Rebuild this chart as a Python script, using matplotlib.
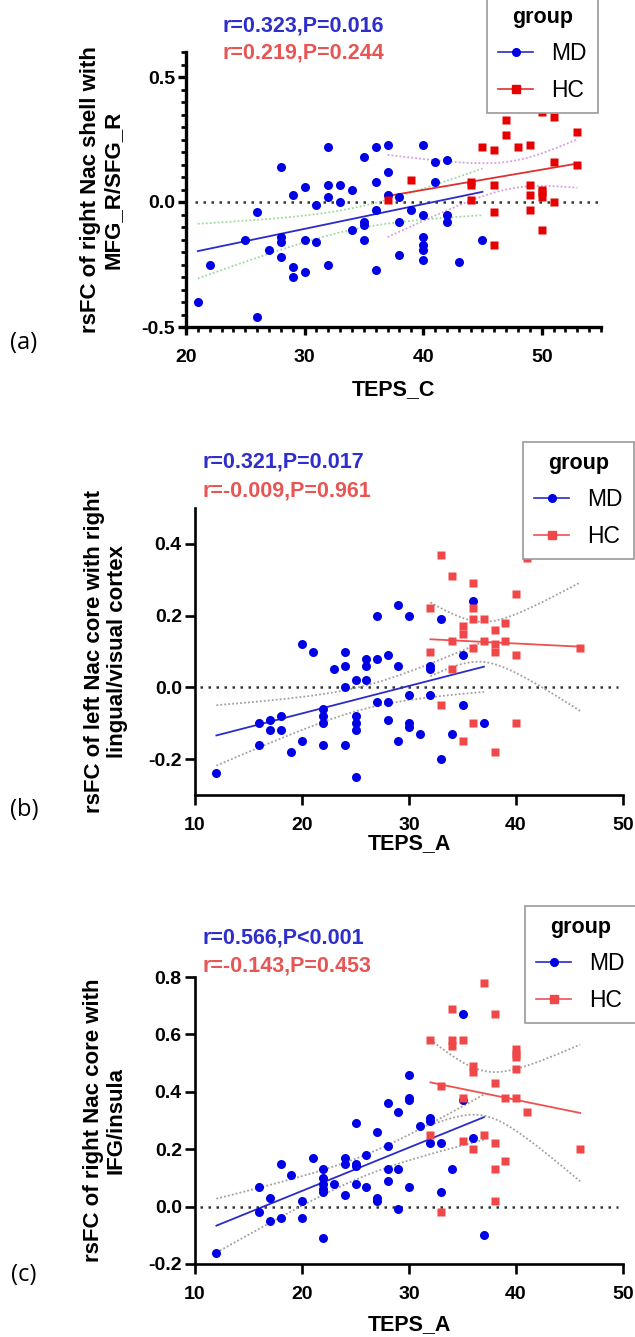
import numpy as np
import matplotlib
matplotlib.use('Agg')
import matplotlib.pyplot as plt
from matplotlib.lines import Line2D
from matplotlib.ticker import MultipleLocator, FixedLocator, FormatStrFormatter

plt.rcParams['font.family'] = ['Liberation Sans', 'DejaVu Sans']
plt.rcParams['axes.unicode_minus'] = False

# ---------------- data ----------------
# Panel (a): TEPS_C vs rsFC right Nac shell - MFG_R/SFG_R
a_md_x = [21, 22, 25, 26, 26, 27, 28, 28, 28, 28, 29, 29, 29, 30, 30, 30, 31, 31,
          32, 32, 32, 32, 33, 33, 34, 34, 35, 35, 35, 35, 36, 36, 36, 36, 37, 37, 37,
          38, 38, 38, 39, 40, 40, 40, 40, 40, 40, 41, 41, 42, 42, 42, 43, 45]
a_md_y = [-0.40, -0.25, -0.15, -0.04, -0.46, -0.19, 0.14, -0.14, -0.16, -0.22, 0.03, -0.26, -0.30,
          0.06, -0.15, -0.28, -0.01, -0.16, 0.22, 0.07, 0.02, -0.25, 0.07, 0.00, 0.05, -0.11,
          0.18, -0.08, -0.09, -0.15, 0.22, 0.08, -0.03, -0.27, 0.23, 0.12, 0.03, 0.02, -0.08,
          -0.21, -0.03, 0.23, -0.05, -0.14, -0.17, -0.19, -0.23, 0.16, 0.08, 0.17, -0.05, -0.08,
          -0.24, -0.15]
a_hc_x = [37, 39, 44, 44, 44, 45, 46, 46, 46, 46, 47, 47, 48, 49, 49, 49, 49, 50, 50, 50,
          50, 50, 51, 51, 51, 53, 53]
a_hc_y = [0.01, 0.09, 0.08, 0.07, 0.01, 0.22, 0.21, 0.07, -0.04, -0.17, 0.33, 0.27, 0.22, 0.23,
          0.07, 0.03, -0.03, 0.36, 0.05, 0.04, 0.02, -0.11, 0.34, 0.16, 0.00, 0.28, 0.15]

# Panel (b): TEPS_A vs rsFC left Nac core - right lingual/visual cortex
b_md_x = [12, 16, 16, 17, 17, 18, 18, 19, 20, 20, 21, 22, 22, 22, 22, 23, 24, 24, 24, 24,
          25, 25, 25, 25, 25, 26, 26, 26, 27, 27, 27, 28, 28, 28, 29, 29, 29, 30, 30, 30, 30,
          31, 32, 32, 32, 33, 33, 34, 35, 35, 36, 37]
b_md_y = [-0.24, -0.10, -0.16, -0.09, -0.12, -0.08, -0.12, -0.18, 0.12, -0.15, 0.10, -0.06,
          -0.08, -0.10, -0.16, 0.05, 0.10, 0.06, 0.00, -0.16, 0.02, -0.08, -0.10, -0.12, -0.25,
          0.08, 0.06, 0.02, 0.20, 0.08, -0.04, 0.09, -0.04, -0.09, 0.23, 0.06, -0.15, 0.20,
          -0.02, -0.10, -0.11, -0.13, 0.06, 0.05, -0.02, 0.19, -0.20, -0.13, 0.09, -0.05, 0.24,
          -0.10]
b_hc_x = [32, 32, 33, 33, 34, 34, 34, 35, 35, 35, 36, 36, 36, 36, 36, 37, 37, 38, 38, 38,
          38, 39, 39, 40, 40, 40, 41, 46]
b_hc_y = [0.22, 0.10, 0.37, -0.05, 0.31, 0.13, 0.05, 0.17, 0.15, -0.15, 0.29, 0.22, 0.19, 0.11,
          -0.10, 0.19, 0.13, 0.16, 0.12, 0.10, -0.18, 0.18, 0.13, 0.26, 0.09, -0.10, 0.36, 0.11]

# Panel (c): TEPS_A vs rsFC right Nac core - IFG/insula
c_md_x = [12, 16, 16, 17, 17, 18, 18, 19, 20, 20, 21, 22, 22, 22, 22, 22, 22, 23, 24, 24,
          24, 25, 25, 25, 25, 26, 26, 27, 27, 27, 28, 28, 28, 28, 29, 29, 29, 30, 30, 30, 30,
          31, 32, 32, 32, 33, 33, 34, 35, 35, 36, 37]
c_md_y = [-0.16, 0.07, -0.02, 0.03, -0.05, 0.15, -0.04, 0.11, 0.02, -0.04, 0.17, 0.13, 0.10,
          0.08, 0.06, 0.05, -0.11, 0.08, 0.17, 0.15, 0.04, 0.29, 0.15, 0.14, 0.08, 0.18, 0.07,
          0.26, 0.03, 0.02, 0.36, 0.21, 0.13, 0.09, 0.33, 0.13, -0.01, 0.46, 0.38, 0.37, 0.07,
          0.28, 0.31, 0.30, 0.22, 0.22, 0.05, 0.13, 0.67, 0.37, 0.24, -0.10]
c_hc_x = [32, 32, 33, 33, 34, 34, 34, 35, 35, 35, 36, 36, 36, 37, 37, 38, 38, 38, 38, 38,
          39, 39, 40, 40, 40, 40, 40, 41, 46]
c_hc_y = [0.58, 0.25, 0.42, -0.02, 0.69, 0.58, 0.56, 0.58, 0.38, 0.23, 0.49, 0.47, 0.20, 0.78,
          0.25, 0.67, 0.43, 0.22, 0.13, 0.02, 0.38, 0.16, 0.55, 0.53, 0.52, 0.48, 0.38, 0.33, 0.20]

stats = [("r=0.323,P=0.016", "r=0.219,P=0.244"),
         ("r=0.321,P=0.017", "r=-0.009,P=0.961"),
         ("r=0.566,P<0.001", "r=-0.143,P=0.453")]
ylabels = ["rsFC of right Nac shell with\nMFG_R/SFG_R",
           "rsFC of left Nac core with right\nlingual/visual cortex",
           "rsFC of right Nac core with\nIFG/insula"]
xlabels = ["TEPS_C", "TEPS_A", "TEPS_A"]
panel_tags = ["(a)", "(b)", "(c)"]
groups = ["MD", "HC"]

T_MD = 2.005   # t(0.975, ~52 df)
T_HC = 2.056   # t(0.975, ~26 df)

# ---------------- styling ----------------
W, H = 635, 1337
fig = plt.figure(figsize=(W / 100, H / 100), dpi=100)

def fx(x):
    return x / W

def fy(y):
    return 1 - y / H

def add_ax(l, t, r, b):
    return fig.add_axes([l / W, 1 - b / H, (r - l) / W, (b - t) / H])

PT_BLUE = '#0000E6'
LINE_BLUE = '#2B2BC8'
TXT_BLUE = '#2E2ECC'
TXT_RED = '#E85555'

def fit_band(ax, x, y, tval, line_color, band_color):
    x = np.asarray(x, float)
    y = np.asarray(y, float)
    n = len(x)
    b, a = np.polyfit(x, y, 1)
    xs = np.linspace(x.min(), x.max(), 120)
    yh = a + b * xs
    resid = y - (a + b * x)
    s = np.sqrt(np.sum(resid ** 2) / (n - 2))
    sxx = np.sum((x - x.mean()) ** 2)
    se = s * np.sqrt(1.0 / n + (xs - x.mean()) ** 2 / sxx)
    ax.plot(xs, yh + tval * se, color=band_color, lw=1.3, ls=(0, (1, 1.2)), zorder=2)
    ax.plot(xs, yh - tval * se, color=band_color, lw=1.3, ls=(0, (1, 1.2)), zorder=2)
    ax.plot(xs, yh, color=line_color, lw=1.3, zorder=3)

def style_ax(ax, lw, tlen, xpad):
    for s in ('top', 'right'):
        ax.spines[s].set_visible(False)
    for s in ('left', 'bottom'):
        ax.spines[s].set_linewidth(lw)
    ax.tick_params(which='major', length=tlen, width=lw, labelsize=14, pad=2)
    ax.tick_params(axis='x', which='major', pad=xpad)
    ax.tick_params(which='minor', length=tlen * 0.6, width=lw * 0.8)
    for lab in ax.get_xticklabels() + ax.get_yticklabels():
        lab.set_fontweight('bold')

panels = [
    dict(box=(186, 52, 601, 327), xlim=(20, 55), ylim=(-0.5, 0.6),
         xt=[20, 30, 40, 50], yt=[-0.5, 0.0, 0.5], xminor=1, yminor=0.05,
         md=(a_md_x, a_md_y), hc=(a_hc_x, a_hc_y), zline=(20.8, 55),
         md_band='#9ED89E', hc_band='#D79BE3', hc_pt='#E60000', hc_line='#E03030',
         lw=2.4, tlen=6, xpad=10, stat_y=(26, 53), stat_x=222, ylab_x=102,
         leg=dict(loc='lower left', anchor=(487, 113)), tag_y=343, xlab_y=390),
    dict(box=(195, 508, 623, 795), xlim=(10, 50), ylim=(-0.3, 0.5),
         xt=[10, 20, 30, 40, 50], yt=[-0.2, 0.0, 0.2, 0.4], xminor=None, yminor=None,
         md=(b_md_x, b_md_y), hc=(b_hc_x, b_hc_y), zline=(10.5, 49.5),
         md_band='#A0A0A0', hc_band='#A0A0A0', hc_pt='#F04848', hc_line='#F05050',
         lw=1.9, tlen=7.5, xpad=8, stat_y=(462, 491), stat_x=203, ylab_x=106,
         leg=dict(loc='upper left', anchor=(523, 442)), tag_y=810, xlab_y=844),
    dict(box=(195, 977, 623, 1264), xlim=(10, 50), ylim=(-0.2, 0.8),
         xt=[10, 20, 30, 40, 50], yt=[-0.2, 0.0, 0.2, 0.4, 0.6, 0.8], xminor=None, yminor=None,
         md=(c_md_x, c_md_y), hc=(c_hc_x, c_hc_y), zline=(10.5, 49.5),
         md_band='#A0A0A0', hc_band='#A0A0A0', hc_pt='#F04848', hc_line='#F05050',
         lw=1.9, tlen=7.5, xpad=8, stat_y=(938, 966), stat_x=203, ylab_x=105,
         leg=dict(loc='upper left', anchor=(525, 906)), tag_y=1275, xlab_y=1325),
]

for i, p in enumerate(panels):
    ax = add_ax(*p['box'])
    ax.set_xlim(*p['xlim'])
    ax.set_ylim(*p['ylim'])
    ax.xaxis.set_major_locator(FixedLocator(p['xt']))
    ax.yaxis.set_major_locator(FixedLocator(p['yt']))
    ax.yaxis.set_major_formatter(FormatStrFormatter('%.1f'))
    if p['xminor']:
        ax.xaxis.set_minor_locator(MultipleLocator(p['xminor']))
    if p['yminor']:
        ax.yaxis.set_minor_locator(MultipleLocator(p['yminor']))
    style_ax(ax, p['lw'], p['tlen'], p['xpad'])

    ax.plot(p['zline'], [0, 0], color='#333333', lw=1.8, ls=(0, (1, 2.2)), zorder=1)

    mdx, mdy = p['md']
    hcx, hcy = p['hc']
    fit_band(ax, mdx, mdy, T_MD, LINE_BLUE, p['md_band'])
    fit_band(ax, hcx, hcy, T_HC, p['hc_line'], p['hc_band'])
    ax.plot(mdx, mdy, 'o', color=PT_BLUE, ms=6.5, mec='none', zorder=4, clip_on=False)
    ax.plot(hcx, hcy, 's', color=p['hc_pt'], ms=5.8, mec='none', zorder=4, clip_on=False)

    # stats text
    fig.text(fx(p['stat_x']), fy(p['stat_y'][0]), stats[i][0], color=TXT_BLUE,
             fontsize=15.5, fontweight='bold', ha='left', va='center')
    fig.text(fx(p['stat_x']), fy(p['stat_y'][1]), stats[i][1], color=TXT_RED,
             fontsize=15.5, fontweight='bold', ha='left', va='center')

    # axis labels
    l, t, r, b = p['box']
    fig.text(fx(p['ylab_x']), fy((t + b) / 2), ylabels[i], rotation=90, ha='center',
             va='center', multialignment='center', fontsize=16, fontweight='bold',
             linespacing=1.1)
    fig.text(fx((l + r) / 2), fy(p['xlab_y']), xlabels[i], ha='center', va='center',
             fontsize=15.5, fontweight='bold')
    fig.text(fx(24), fy(p['tag_y']), panel_tags[i], ha='center', va='center',
             fontsize=17, family=['Open Sans', 'DejaVu Sans'])

    # legend
    handles = [Line2D([0], [0], color=LINE_BLUE, lw=1.2, marker='o', ms=5.5,
                      mfc=PT_BLUE, mec=PT_BLUE),
               Line2D([0], [0], color=p['hc_line'], lw=1.2, marker='s', ms=5.5,
                      mfc=p['hc_pt'], mec=p['hc_pt'])]
    ax_, ay_ = p['leg']['anchor']
    leg = ax.legend(handles, groups, title='group', loc=p['leg']['loc'],
                    bbox_to_anchor=(fx(ax_), fy(ay_)), bbox_transform=fig.transFigure,
                    fontsize=16.5, title_fontproperties={'weight': 'bold', 'size': 15.5},
                    frameon=True, fancybox=False, framealpha=1, edgecolor='#999999',
                    handlelength=1.5, handletextpad=0.8, labelspacing=0.6,
                    borderpad=0.5, borderaxespad=0)
    leg.get_frame().set_linewidth(1.2)
    leg.set_clip_on(False)

fig.savefig('out.png', dpi=100)
